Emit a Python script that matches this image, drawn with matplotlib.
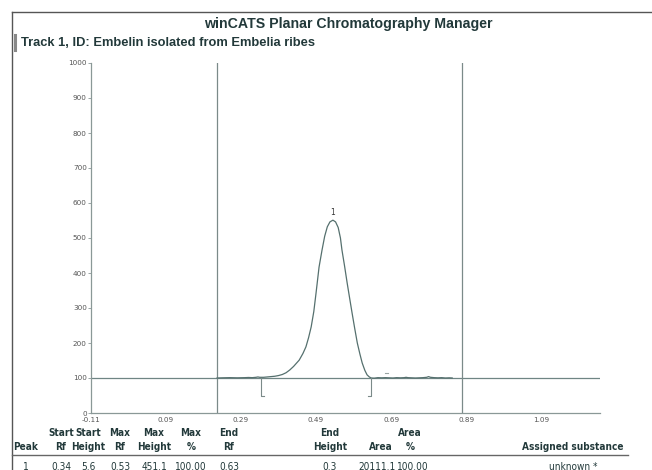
import matplotlib.pyplot as plt
from matplotlib.lines import Line2D
from matplotlib import font_manager

# densitogram trace (Rf, AU)
rf = [0.226, 0.24, 0.26, 0.28, 0.30, 0.31, 0.32, 0.33, 0.335, 0.34, 0.35, 0.36,
      0.37, 0.38, 0.39, 0.40, 0.41, 0.42, 0.43, 0.445, 0.455, 0.463, 0.47,
      0.477, 0.484, 0.49, 0.498, 0.506, 0.513, 0.52, 0.527, 0.535, 0.542,
      0.549, 0.555, 0.559, 0.566, 0.573, 0.58, 0.586, 0.593, 0.60, 0.607,
      0.613, 0.62, 0.626, 0.632, 0.637, 0.645, 0.655, 0.665, 0.675, 0.685,
      0.695, 0.705, 0.715, 0.725, 0.73, 0.735, 0.745, 0.755, 0.765, 0.775,
      0.785, 0.79, 0.795, 0.805, 0.815, 0.825, 0.835, 0.845, 0.853]
height = [100, 100.5, 101, 100.5, 101, 101.5, 101, 102, 103, 102, 102, 103,
          104, 105, 107, 110, 115, 123, 133, 151, 170, 189, 215,
          246, 290, 343, 417, 466, 505, 532, 546, 551, 546,
          530, 500, 466, 420, 371, 325, 286, 242, 200, 168,
          143, 122, 109, 103, 100, 99.5, 101, 100.5, 101, 100.5,
          100, 101, 100.5, 101, 102, 101, 100.5, 100, 100.5, 101,
          102, 104, 102, 101, 100.5, 101, 100, 100.5, 100]

baseline = 100
front_lines = [0.226, 0.879]
peak_start, peak_end = 0.343, 0.637
peak_rf, peak_top = 0.535, 551

xticks = [-0.11, 0.09, 0.29, 0.49, 0.69, 0.89, 1.09]
yticks = [0, 100, 200, 300, 400, 500, 600, 700, 800, 900, 1000]

header1 = ['', 'Start', 'Start', 'Max', 'Max', 'Max', 'End', 'End', '', 'Area', '']
header2 = ['Peak', 'Rf', 'Height', 'Rf', 'Height', '%', 'Rf', 'Height', 'Area', '%',
           'Assigned substance']
row1 = ['1', '0.34', '5.6', '0.53', '451.1', '100.00', '0.63', '0.3', '20111.1',
        '100.00', 'unknown *']
col_x = [26, 61, 88, 120, 154, 191, 229, 330, 381, 410, 573]
row_x = [26, 61, 88, 120, 154, 191, 229, 330, 377, 413, 573]

# a condensed face for the results table, if one is installed
files = [f.fname for f in font_manager.fontManager.ttflist]
if any('SansNarrow' in f for f in files):
    tab_font = dict(family='Liberation Sans Narrow', size=8.6)
elif any('DejaVuSansCondensed' in f for f in files):
    tab_font = dict(family='DejaVu Sans', stretch='condensed', size=7.2)
else:
    tab_font = dict(family='Liberation Sans', size=7.0)

W, H = 652, 470
txt = '#22393a'
grey = '#6f8584'

fig = plt.figure(figsize=(W / 100, H / 100), dpi=100)
fig.patch.set_facecolor('white')


def fx(px):
    return px / W


def fy(py):
    return 1 - py / H


# page frame
fig.add_artist(Line2D([fx(12), fx(12)], [fy(12), 0], color='#555555', lw=1))
fig.add_artist(Line2D([fx(12), 1], [fy(12), fy(12)], color='#555555', lw=1))
fig.add_artist(Line2D([fx(15), fx(15)], [fy(35), fy(50)], color='#888888', lw=2.2))

fig.text(fx(348), fy(24), 'winCATS Planar Chromatography Manager', ha='center',
         va='center', fontsize=10.2, family='Liberation Sans', weight='bold', color=txt)
fig.text(fx(21), fy(43), 'Track 1, ID: Embelin isolated from Embelia ribes', ha='left',
         va='center', fontsize=9.3, family='Liberation Sans', weight='bold', color=txt)

ax = fig.add_axes([fx(91), fy(413), fx(600) - fx(91), fy(63) - fy(413)])
ax.set_xlim(-0.11, 1.247)
ax.set_ylim(0, 1000)
for s in ['top', 'right']:
    ax.spines[s].set_visible(False)
for s in ['left', 'bottom']:
    ax.spines[s].set_color('#8a9897')
    ax.spines[s].set_linewidth(0.9)

ax.set_xticks(xticks)
ax.set_xticklabels([f'{v:.2f}' for v in xticks])
ax.set_yticks(yticks)
ax.tick_params(axis='x', length=0, pad=3, labelsize=5.2, labelcolor='#555555')
ax.tick_params(axis='y', length=2, width=0.6, color='#8a9897', pad=1,
               labelsize=5.2, labelcolor='#555555')

ax.axhline(baseline, color=grey, lw=0.9)
for f in front_lines:
    ax.axvline(f, color='#7b8a89', lw=0.9)

ax.plot(rf, height, color='#55706e', lw=0.9)

# peak start / end brackets
ax.plot([peak_start, peak_start, peak_start + 0.008], [baseline, 48, 48], color='#7b8a89', lw=0.8)
ax.plot([peak_end - 0.008, peak_end, peak_end], [48, 48, baseline], color='#7b8a89', lw=0.8)
ax.plot([0.675, 0.682], [114, 114], color='#9aa5a4', lw=0.8)
ax.text(peak_rf, peak_top + 8, '1', ha='center', va='bottom', fontsize=5.5, color='#333333')

# results table
for x, a, b in zip(col_x, header1, header2):
    fig.text(fx(x), fy(433), a, ha='center', va='center', weight='bold', color=txt, **tab_font)
    fig.text(fx(x), fy(447), b, ha='center', va='center', weight='bold', color=txt, **tab_font)
for x, c in zip(row_x, row1):
    fig.text(fx(x), fy(462), c, ha='center', va='top', color=txt, **tab_font)
fig.add_artist(Line2D([fx(12), fx(628)], [fy(455), fy(455)], color='#666666', lw=1))

fig.savefig('out.png', dpi=100, facecolor='white')
